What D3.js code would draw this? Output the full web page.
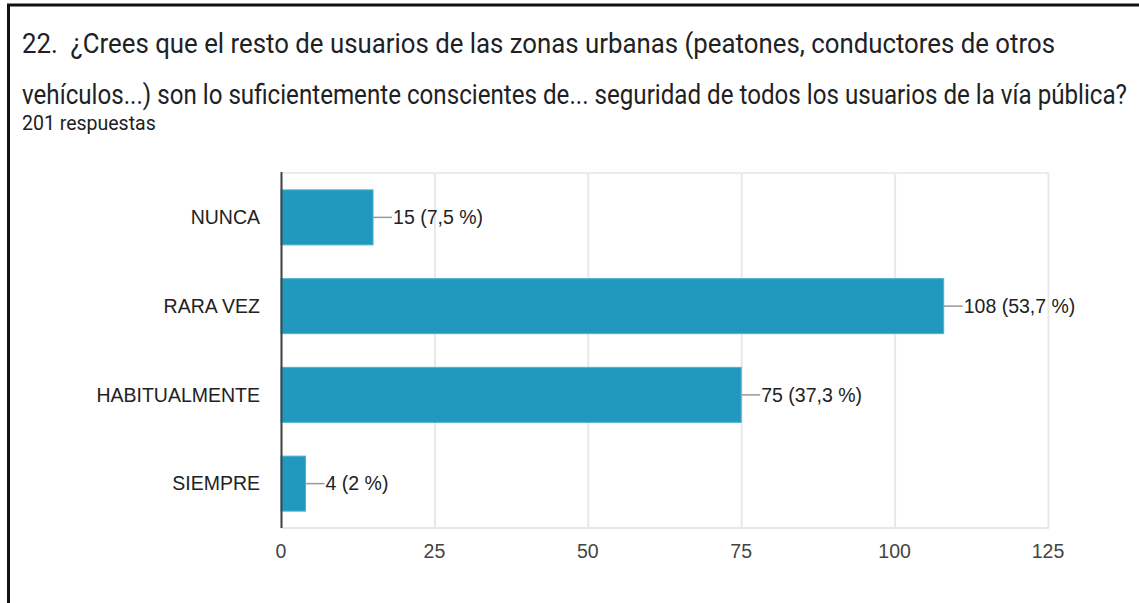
<!DOCTYPE html>
<html>
<head>
<meta charset="utf-8">
<script src="https://cdn.jsdelivr.net/npm/d3@7"></script>
<style>
  body { margin: 0; background: #fff; }
  svg { display: block; }
  text { white-space: pre; }
</style>
</head>
<body>
<svg width="1139" height="603"></svg>
<script>
var categories = ["NUNCA", "RARA VEZ", "HABITUALMENTE", "SIEMPRE"];
var counts = [15, 108, 75, 4];
var percents = ["7,5", "53,7", "37,3", "2"];
var ticks = [0, 25, 50, 75, 100, 125];
var titleLines = [
  "22.  ¿Crees que el resto de usuarios de las zonas urbanas (peatones, conductores de otros",
  "vehículos...) son lo suficientemente conscientes de... seguridad de todos los usuarios de la vía pública?"
];
var titleWidths = [1033, 1105];
var subtitle = "201 respuestas";

var svg = d3.select("svg"),
    width = +svg.attr("width"),
    height = +svg.attr("height");

// frame (screenshot crop: top and left edges only)
svg.append("line").attr("x1", 7).attr("x2", width).attr("y1", 5).attr("y2", 5)
  .attr("stroke", "#111").attr("stroke-width", 3);
svg.append("line").attr("x1", 8.5).attr("x2", 8.5).attr("y1", 4).attr("y2", height)
  .attr("stroke", "#111").attr("stroke-width", 3);

svg.selectAll(".title").data(titleLines).enter()
  .append("text").attr("class", "title")
  .attr("x", 22).attr("y", function(d, i) { return 53 + i * 51; })
  .attr("font-family", "Roboto").attr("font-size", 28)
  .attr("textLength", function(d, i) { return titleWidths[i]; })
  .attr("lengthAdjust", "spacingAndGlyphs")
  .attr("fill", "#202124")
  .text(function(d) { return d; });

svg.append("text").attr("x", 22).attr("y", 130)
  .attr("font-family", "Roboto").attr("font-size", 19.5)
  .attr("fill", "#202124").text(subtitle);

var plotL = 281, plotR = 1048, plotT = 173, plotB = 528;

var x = d3.scaleLinear().domain([0, 125]).range([plotL, plotR]);
var y = d3.scaleBand().domain(categories).range([plotT, plotB]).paddingInner(0.38).paddingOuter(0.19);

var font = "Liberation Sans, Arial, sans-serif";

// grid
var grid = svg.append("g");
grid.selectAll("line").data(ticks).enter().append("line")
  .attr("x1", function(d) { return x(d) + 0.5; }).attr("x2", function(d) { return x(d) + 0.5; })
  .attr("y1", plotT).attr("y2", plotB)
  .attr("stroke", "#e8e8e8").attr("stroke-width", 2);
grid.append("line").attr("x1", plotL).attr("x2", plotR + 1).attr("y1", plotT).attr("y2", plotT)
  .attr("stroke", "#ececec").attr("stroke-width", 2);
grid.append("line").attr("x1", plotL).attr("x2", plotR + 1).attr("y1", plotB).attr("y2", plotB)
  .attr("stroke", "#e8e8e8").attr("stroke-width", 2);

// bars
svg.selectAll(".bar").data(counts).enter().append("rect").attr("class", "bar")
  .attr("x", x(0)).attr("y", function(d, i) { return y(categories[i]); })
  .attr("width", function(d) { return x(d) - x(0); })
  .attr("height", y.bandwidth())
  .attr("fill", "#2199bf").attr("stroke", "#4fb1d1").attr("stroke-width", 1);

// leader lines and value labels
svg.selectAll(".lead").data(counts).enter().append("line").attr("class", "lead")
  .attr("x1", function(d) { return x(d); }).attr("x2", function(d) { return x(d) + 19; })
  .attr("y1", function(d, i) { return y(categories[i]) + y.bandwidth() / 2; })
  .attr("y2", function(d, i) { return y(categories[i]) + y.bandwidth() / 2; })
  .attr("stroke", "#999").attr("stroke-width", 1.5);

svg.selectAll(".val").data(counts).enter().append("text").attr("class", "val")
  .attr("x", function(d) { return x(d) + 20; })
  .attr("y", function(d, i) { return y(categories[i]) + y.bandwidth() / 2; })
  .attr("dy", "0.35em")
  .attr("font-family", font).attr("font-size", 19.5).attr("fill", "#222")
  .text(function(d, i) { return d + " (" + percents[i] + " %)"; });

// category labels
svg.selectAll(".cat").data(categories).enter().append("text").attr("class", "cat")
  .attr("x", plotL - 21)
  .attr("y", function(d) { return y(d) + y.bandwidth() / 2; })
  .attr("dy", "0.35em").attr("text-anchor", "end")
  .attr("font-family", font).attr("font-size", 19.5).attr("fill", "#222")
  .text(function(d) { return d; });

// axis line
svg.append("line").attr("x1", plotL + 0.5).attr("x2", plotL + 0.5).attr("y1", plotT - 1).attr("y2", plotB)
  .attr("stroke", "#444").attr("stroke-width", 2);

// tick labels
svg.selectAll(".tick").data(ticks).enter().append("text").attr("class", "tick")
  .attr("x", function(d) { return x(d); }).attr("y", 558)
  .attr("text-anchor", "middle")
  .attr("font-family", font).attr("font-size", 19.5).attr("fill", "#444")
  .text(function(d) { return d; });
</script>
</body>
</html>
